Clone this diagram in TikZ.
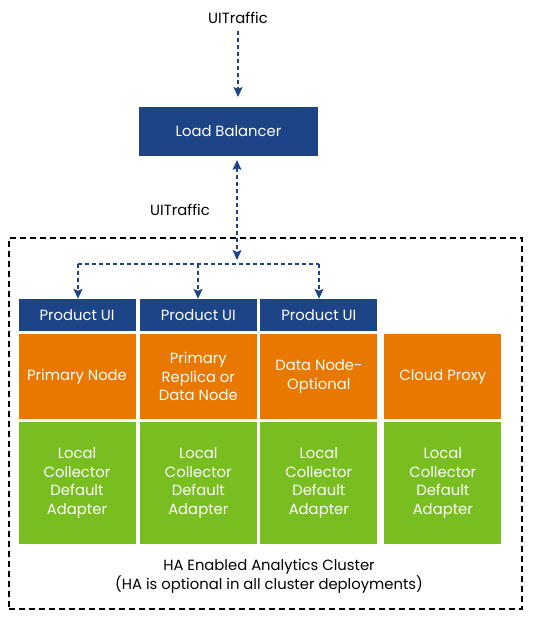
\documentclass[tikz,border=0pt]{standalone}
\usepackage{fontspec}
\setmainfont{Poppins}
\usetikzlibrary{arrows.meta}
\definecolor{vblue}{HTML}{1E4488}
\definecolor{vorange}{HTML}{E87800}
\definecolor{vgreen}{HTML}{78BE21}
\begin{document}
\begin{tikzpicture}[x=1pt,y=-1pt,
  box/.style={draw=none,text=white,align=center,inner sep=0pt,font=\fontsize{14.8}{18.7}\selectfont},
  bluebox/.style={box,fill=vblue},
  orangebox/.style={box,fill=vorange,minimum width=117pt,minimum height=85pt},
  greenbox/.style={box,fill=vgreen,minimum width=117pt,minimum height=122pt},
  uibox/.style={bluebox,minimum width=117pt,minimum height=32pt},
  flow/.style={draw=vblue,line width=1.2pt,dash pattern=on 4pt off 3pt},
  tip/.style={-{Stealth[length=10pt,width=9pt,inset=2pt]}},
  lbl/.style={text=black,inner sep=0pt,font=\fontsize{14.8}{18.7}\selectfont}
]
\useasboundingbox (0,0) rectangle (536,617);
\fill[white] (0,0) rectangle (536,617);

% cluster
\node[draw=black,line width=1.2pt,dash pattern=on 6pt off 4pt,minimum width=513pt,minimum height=371pt,inner sep=0pt] (cluster) at (265.5,423.5) {};

\node[lbl] (t1) at (238,18) {UITraffic};
\node[bluebox,minimum width=179pt,minimum height=49pt] (lb) at (228.5,131.5) {Load Balancer};
\node[lbl] (t2) at (180,210) {UITraffic};

\coordinate (a0) at (238,31);
\coordinate (a1) at (238,97);
\draw[flow,tip] (a0) -- (a1);

\coordinate (b0) at (237,160);
\coordinate (b1) at (237,260);
\draw[flow,{Stealth[length=10pt,width=9pt,inset=2pt]}-{Stealth[length=10pt,width=9pt,inset=2pt]}] (b0) -- (b1);

\node[uibox] (ui1) at (77,315) {Product UI};
\node[uibox] (ui2) at (198.3,315) {Product UI};
\node[uibox] (ui3) at (318.8,315) {Product UI};

\node[orangebox] (o1) at (77,376.5) {Primary Node};
\node[orangebox] (o2) at (198.3,376.5) {Primary\\Replica or\\Data Node};
\node[orangebox] (o3) at (318.8,376.5) {Data Node-\\Optional};
\node[orangebox] (o4) at (442.8,376.5) {Cloud Proxy};

\node[greenbox] (g1) at (77,483) {Local\\Collector\\Default\\Adapter};
\node[greenbox] (g2) at (198.3,483) {Local\\Collector\\Default\\Adapter};
\node[greenbox] (g3) at (318.8,483) {Local\\Collector\\Default\\Adapter};
\node[greenbox] (g4) at (442.8,483) {Local\\Collector\\Default\\Adapter};

\coordinate (d1) at (78,264);
\coordinate (d2) at (198,264);
\coordinate (d3) at (319,264);
\draw[flow] (d1) -- (d3);
\draw[flow,tip] (d1) -- (d1 |- ui1.north);
\draw[flow,tip] (d2) -- (d2 |- ui2.north);
\draw[flow,tip] (d3) -- (d3 |- ui3.north);

\node[lbl,align=center] (ha) at (269,576.5) {HA Enabled Analytics Cluster\\(HA is optional in all cluster deployments)};
\end{tikzpicture}
\end{document}
